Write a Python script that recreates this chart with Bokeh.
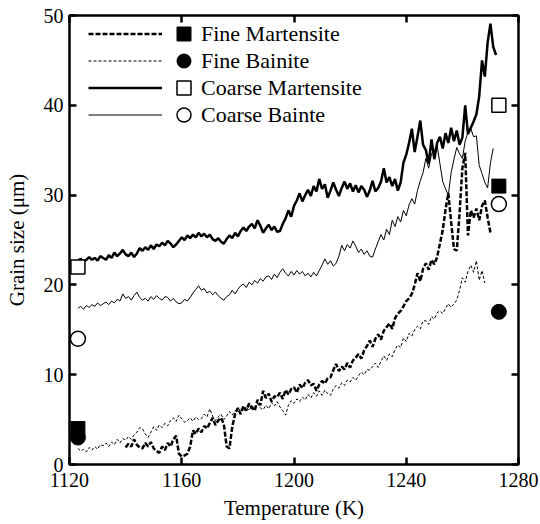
from bokeh.plotting import figure
from bokeh.models import Range1d, FixedTicker, LinearAxis, Legend, LegendItem
from bokeh.embed import file_html
from bokeh.resources import INLINE

x_ticks = [1120, 1160, 1200, 1240, 1280]
y_ticks = [0, 10, 20, 30, 40, 50]

# Coarse Martensite (thick solid), 1 K steps from 1123 K
cm_G = [22.7, 22.9, 22.6, 22.8, 23.1, 22.8, 23.0, 22.7, 23.2, 23.0,
        22.8, 23.3, 23.0, 23.6, 23.2, 23.5, 23.9, 23.4, 23.2, 23.6,
        23.1, 23.5, 24.1, 23.8, 24.2, 23.9, 24.4, 24.0, 24.5, 24.3,
        24.7, 24.4, 24.9, 24.6, 24.2, 24.5, 24.9, 25.3, 25.0, 25.5,
        25.2, 25.6, 25.3, 25.8, 25.4, 25.7, 25.3, 25.6, 25.1, 24.9,
        25.2, 24.8, 24.6, 25.1, 25.5, 25.2, 25.8, 25.4, 26.0, 26.4,
        26.0, 26.5, 26.8, 26.3, 27.2, 26.6, 25.8, 26.3, 26.7, 26.1,
        26.5, 25.9, 26.0, 26.8, 27.4, 28.3, 27.6, 28.8, 29.4, 30.2,
        29.3, 30.0, 30.6, 29.9, 31.0, 30.4, 31.8, 30.7, 31.2, 29.7,
        30.5, 31.4, 30.6, 29.9, 30.8, 31.5, 30.7, 31.3, 30.4, 31.1,
        30.3, 31.0, 30.6, 29.8, 30.5, 31.6, 30.4, 30.8, 31.5, 33.0,
        31.4, 32.0, 31.0, 31.8, 30.5, 31.4, 33.6, 34.5, 35.8, 37.4,
        34.8, 36.5, 38.3, 35.6, 35.0, 33.5, 36.2, 34.0, 35.8, 36.5,
        35.2, 36.9, 35.8, 37.5, 36.0, 37.2, 35.6, 36.4, 40.0, 36.8,
        37.5, 38.2, 39.0, 41.0, 45.0, 43.2, 47.0, 49.1, 46.5, 45.6]
cm_T = list(range(1123, 1123 + len(cm_G)))

# Coarse Bainite (thin solid), from 1123 K
cb_G = [17.4, 17.6, 17.3, 17.7, 17.5, 17.8, 17.6, 18.0, 17.7, 17.9,
        18.1, 17.8, 18.2, 18.0, 18.4, 18.2, 19.0, 18.5, 18.7, 18.3,
        18.8, 19.2, 18.6, 18.3, 18.5, 18.2, 18.7, 18.4, 18.8, 18.5,
        18.3, 18.7, 18.6, 18.2, 18.5, 18.1, 17.9, 18.0, 18.4, 18.2,
        18.6, 19.1, 19.5, 19.9, 19.4, 19.6, 19.1, 19.3, 18.9, 19.2,
        18.8, 18.5, 18.3, 18.7, 18.9, 19.4, 19.0, 19.5, 19.9, 20.1,
        19.7, 20.3, 20.0, 20.5, 20.2, 20.7, 20.4, 20.9, 21.0, 20.6,
        21.2, 20.8, 21.4, 21.8, 21.3, 21.0, 21.5, 21.1, 21.6, 21.2,
        21.5, 21.0, 21.3, 20.9, 21.4, 21.0, 21.6, 22.2, 22.9, 22.3,
        22.7, 22.1, 22.4, 23.2, 24.4, 23.8, 24.5, 24.1, 24.9, 24.3,
        23.6, 24.0, 23.4, 23.8, 23.2, 23.1, 24.0, 24.8, 25.6, 25.0,
        26.2, 25.6, 27.2, 26.5, 27.6, 27.0, 28.3, 27.7, 28.9, 29.6,
        29.0, 30.5, 31.6, 32.5, 34.1, 33.0, 34.6, 35.0, 35.5, 33.5,
        31.5, 30.7, 30.0, 32.5, 34.0, 35.3, 34.6, 34.1, 36.0, 37.0,
        37.4, 36.5, 36.6, 33.3, 32.4, 31.4, 30.8, 33.6, 35.2]
cb_T = list(range(1123, 1123 + len(cb_G)))

# Fine Martensite (thick dashed), from 1140 K
fm_G = [1.9, 2.3, 2.0, 2.8, 2.2, 1.9, 1.8, 2.4, 2.0, 2.5,
        1.8, 1.5, 1.3, 2.0, 1.6, 2.4, 2.0, 2.8, 3.2, 1.2,
        0.9, 1.0, 1.2, 2.0, 3.8, 3.4, 4.0, 3.6, 4.3, 4.0,
        4.6, 5.2, 4.4, 4.9, 5.2, 4.5, 2.0, 1.8, 4.2, 5.6,
        6.3, 5.6, 6.5, 6.0, 6.8, 6.3, 6.0, 7.2, 6.6, 8.2,
        7.4, 7.9, 7.0, 7.6, 7.5, 8.0, 7.3, 8.3, 7.8, 8.4,
        8.6, 8.0, 8.9, 8.5, 9.1, 9.4, 8.8, 9.0, 8.2, 8.9,
        9.3, 9.0, 9.6, 9.7, 10.5, 11.2, 10.4, 10.9, 10.6, 11.3,
        10.8, 11.6, 11.9, 12.3, 11.8, 12.7, 13.2, 13.8, 13.1, 14.0,
        14.5, 13.9, 14.9, 15.3, 15.7, 15.1, 16.3, 16.8, 17.1, 17.6,
        18.2, 18.5, 19.0, 20.0, 21.3, 20.4, 21.8, 22.4, 21.7, 22.8,
        22.3, 23.1, 24.6, 26.1, 28.4, 30.2, 27.0, 24.0, 23.8, 28.0,
        33.0, 34.7, 25.5, 28.3, 27.5, 28.5, 27.2, 28.8, 29.4, 27.5, 25.8]
fm_T = list(range(1140, 1140 + len(fm_G)))

# Fine Bainite (thin dashed), from 1123 K
fb_G = [1.8, 1.5, 1.7, 1.4, 1.9, 1.6, 2.0, 1.7, 2.2, 2.1,
        2.4, 2.0, 2.5, 2.2, 2.8, 2.4, 2.9, 2.7, 3.1, 2.8,
        3.3, 3.6, 4.1, 4.0, 3.4, 3.0, 3.6, 4.2, 3.8, 4.4,
        4.1, 4.6, 4.3, 4.9, 5.2, 4.8, 5.5, 5.1, 4.7, 4.9,
        5.2, 4.8, 5.3, 5.0, 5.1, 5.6, 5.3, 6.2, 5.4, 4.9,
        5.3, 5.6, 5.0, 5.4, 5.9, 5.5, 6.0, 5.8, 6.3, 5.9,
        6.4, 6.0, 6.6, 6.2, 6.8, 6.3, 6.1, 6.6, 6.2, 6.9,
        6.5, 7.0, 6.4, 6.0, 5.5, 6.6, 7.1, 6.8, 7.3, 7.0,
        7.5, 7.2, 7.8, 7.4, 8.0, 7.6, 8.2, 7.7, 8.3, 7.9,
        7.7, 8.4, 8.8, 8.5, 9.1, 8.8, 9.4, 9.2, 9.7, 9.4,
        9.9, 10.3, 10.0, 10.6, 10.5, 10.9, 11.3, 10.8, 11.5, 12.1,
        11.6, 12.3, 12.0, 12.8, 13.3, 13.0, 14.1, 13.7, 14.6, 14.3,
        15.0, 15.4, 15.1, 16.0, 16.0, 15.6, 16.5, 16.2, 16.9, 17.1,
        16.8, 17.4, 17.9, 17.5, 17.9, 18.3, 19.4, 20.8, 20.3, 21.5,
        22.2, 21.4, 22.7, 20.5, 21.6, 20.2]
fb_T = list(range(1123, 1123 + len(fb_G)))

# Single measurements (markers)
marker_T = [1123, 1273]
fm_pts = [4, 31]
fb_pts = [3, 17]
cm_pts = [22, 40]
cb_pts = [14, 29]

labels = ["Fine Martensite", "Fine Bainite", "Coarse Martensite", "Coarse Bainte"]

FONT = "Liberation Serif"

p = figure(width=540, height=524, x_range=Range1d(1120, 1280), y_range=Range1d(0, 50),
           output_backend="svg", toolbar_location=None,
           min_border_left=69, min_border_right=22, min_border_top=15, min_border_bottom=60,
           x_axis_label="Temperature (K)", y_axis_label="Grain size (μm)")
p.xgrid.visible = False
p.ygrid.visible = False
p.outline_line_color = "black"
p.outline_line_width = 2.5
p.background_fill_color = "white"
p.border_fill_color = "white"

xax = p.below[0]
yax = p.left[0]
xax.ticker = FixedTicker(ticks=x_ticks)
yax.ticker = FixedTicker(ticks=y_ticks)

# mirrored axes on top and right: inward ticks only
top_ax = LinearAxis(ticker=FixedTicker(ticks=x_ticks))
right_ax = LinearAxis(ticker=FixedTicker(ticks=y_ticks))
p.add_layout(top_ax, "above")
p.add_layout(right_ax, "right")

for ax in [xax, yax, top_ax, right_ax]:
    ax.axis_line_color = None
    ax.major_tick_in = 7
    ax.major_tick_out = 0
    ax.major_tick_line_width = 2.5
    ax.major_tick_line_color = "black"
    ax.minor_tick_line_color = None
    ax.major_label_text_font = FONT
    ax.major_label_text_font_size = "20px"
    ax.major_label_text_color = "black"
    ax.axis_label_text_font = FONT
    ax.axis_label_text_font_size = "21px"
    ax.axis_label_text_font_style = "normal"
    ax.axis_label_text_color = "black"
for ax in [top_ax, right_ax]:
    ax.major_label_text_font_size = "0px"
    ax.major_label_standoff = 0
xax.major_label_standoff = 8
yax.major_label_standoff = 6
xax.axis_label_standoff = 6
yax.axis_label_standoff = 12

r_fm = p.line(fm_T, fm_G, line_color="black", line_width=2.5, line_dash="5 2")
r_fb = p.line(fb_T, fb_G, line_color="black", line_width=1, line_dash="3 2")
r_cm = p.line(cm_T, cm_G, line_color="black", line_width=2.5)
r_cb = p.line(cb_T, cb_G, line_color="black", line_width=1)

m_fm = p.scatter(marker_T, fm_pts, marker="square", size=14, fill_color="black", line_color="black")
m_fb = p.scatter(marker_T, fb_pts, marker="circle", size=15, fill_color="black", line_color="black")
m_cm = p.scatter(marker_T, cm_pts, marker="square", size=14, fill_color="white", line_color="black", line_width=1.5)
m_cb = p.scatter(marker_T, cb_pts, marker="circle", size=15, fill_color="white", line_color="black", line_width=1.5)

# legend: line samples (4 rows, 27 px pitch)
leg_lines = Legend(items=[LegendItem(label=" ", renderers=[r]) for r in [r_fm, r_fb, r_cm, r_cb]],
                   location=(19, 336), glyph_width=74, glyph_height=27, spacing=0,
                   padding=0, margin=0, label_text_font_size="0px", label_width=0, label_height=0,
                   label_standoff=0, border_line_color=None, background_fill_alpha=0)
p.add_layout(leg_lines)

# legend: markers and texts, one row each (so markers are 14 px)
for i, (lab, r) in enumerate(zip(labels, [m_fm, m_fb, m_cm, m_cb])):
    lg = Legend(items=[LegendItem(label=lab, renderers=[r])],
                location=(97, 413 - 27 * i), glyph_width=35, glyph_height=35, spacing=0,
                padding=0, margin=0, label_standoff=0,
                label_text_font=FONT, label_text_font_size="22px", label_text_color="black",
                border_line_color=None, background_fill_alpha=0)
    p.add_layout(lg)

open("out.html", "w").write(file_html(p, INLINE))
